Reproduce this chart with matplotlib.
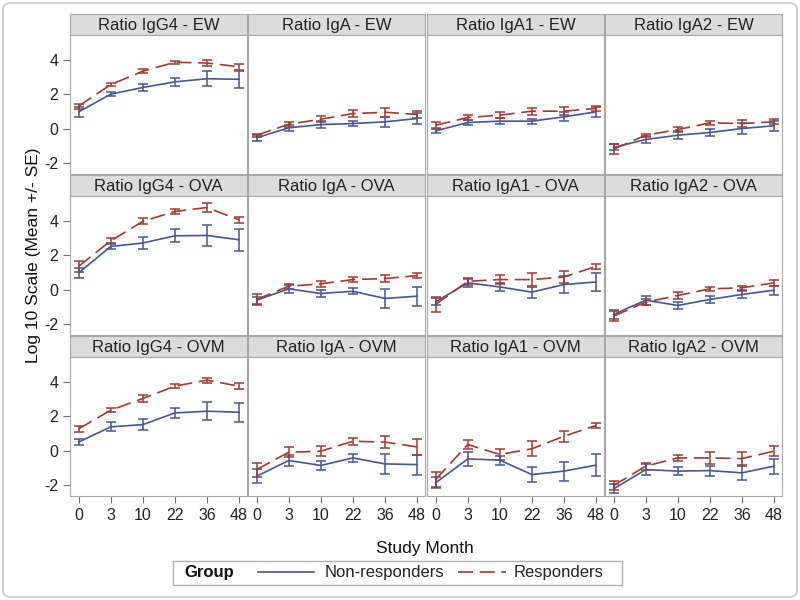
import matplotlib.pyplot as plt
from matplotlib.patches import FancyBboxPatch, Rectangle
from matplotlib.lines import Line2D
import numpy as np

plt.rcParams['font.family'] = ['Liberation Sans', 'DejaVu Sans']

months = ['0', '3', '10', '22', '36', '48']
antibodies = ['IgG4', 'IgA', 'IgA1', 'IgA2']
antigens = ['EW', 'OVA', 'OVM']

# Non-responders: mean and SE, rows = antigen, cols = antibody
nr_mean = [
    [[0.97, 2.0, 2.39, 2.72, 2.9, 2.87],
     [-0.54, 0.04, 0.23, 0.29, 0.39, 0.58],
     [-0.14, 0.35, 0.43, 0.43, 0.68, 0.97],
     [-1.1, -0.64, -0.39, -0.23, 0.0, 0.16]],
    [[0.97, 2.51, 2.71, 3.13, 3.15, 2.9],
     [-0.62, 0.04, -0.23, -0.1, -0.52, -0.39],
     [-0.72, 0.39, 0.15, -0.15, 0.29, 0.44],
     [-1.45, -0.62, -0.93, -0.58, -0.29, -0.04]],
    [[0.49, 1.38, 1.51, 2.19, 2.29, 2.23],
     [-1.5, -0.58, -0.87, -0.43, -0.78, -0.82],
     [-1.88, -0.49, -0.56, -1.4, -1.2, -0.85],
     [-2.23, -1.11, -1.2, -1.17, -1.3, -0.91]],
]
nr_se = [
    [[0.27, 0.1, 0.23, 0.25, 0.43, 0.5],
     [0.19, 0.16, 0.19, 0.16, 0.3, 0.3],
     [0.13, 0.15, 0.17, 0.15, 0.26, 0.27],
     [0.18, 0.18, 0.23, 0.2, 0.3, 0.28]],
    [[0.28, 0.17, 0.33, 0.37, 0.6, 0.63],
     [0.2, 0.24, 0.2, 0.16, 0.56, 0.56],
     [0.2, 0.24, 0.21, 0.32, 0.48, 0.53],
     [0.25, 0.26, 0.22, 0.19, 0.21, 0.26]],
    [[0.19, 0.26, 0.31, 0.29, 0.53, 0.56],
     [0.4, 0.34, 0.26, 0.25, 0.58, 0.58],
     [0.32, 0.39, 0.26, 0.44, 0.55, 0.66],
     [0.26, 0.31, 0.23, 0.29, 0.39, 0.44]],
]
# Responders
r_mean = [
    [[1.3, 2.56, 3.34, 3.86, 3.82, 3.6],
     [-0.39, 0.25, 0.54, 0.87, 0.95, 0.82],
     [0.19, 0.64, 0.78, 1.01, 1.01, 1.17],
     [-1.2, -0.39, -0.06, 0.33, 0.29, 0.39]],
    [[1.35, 2.84, 3.97, 4.55, 4.78, 4.06],
     [-0.58, 0.19, 0.33, 0.58, 0.64, 0.81],
     [-0.87, 0.48, 0.58, 0.58, 0.73, 1.35],
     [-1.55, -0.73, -0.35, 0.04, 0.1, 0.39]],
    [[1.26, 2.35, 3.03, 3.75, 4.1, 3.75],
     [-1.11, -0.1, -0.04, 0.54, 0.49, 0.21],
     [-1.69, 0.35, -0.23, 0.1, 0.83, 1.46],
     [-2.04, -0.91, -0.43, -0.43, -0.47, -0.04]],
]
r_se = [
    [[0.15, 0.1, 0.12, 0.08, 0.17, 0.17],
     [0.1, 0.15, 0.17, 0.2, 0.25, 0.18],
     [0.17, 0.17, 0.17, 0.2, 0.24, 0.15],
     [0.27, 0.1, 0.17, 0.12, 0.2, 0.15]],
    [[0.3, 0.14, 0.17, 0.13, 0.24, 0.16],
     [0.34, 0.15, 0.17, 0.15, 0.21, 0.15],
     [0.42, 0.19, 0.28, 0.38, 0.34, 0.15],
     [0.29, 0.19, 0.22, 0.1, 0.12, 0.17]],
    [[0.19, 0.13, 0.19, 0.13, 0.15, 0.17],
     [0.41, 0.29, 0.29, 0.19, 0.35, 0.47],
     [0.43, 0.25, 0.34, 0.43, 0.31, 0.12],
     [0.27, 0.21, 0.19, 0.33, 0.36, 0.29]],
]

blue = '#445694'
red = '#A23A2E'
frame = '#A8A8A8'

W, H = 800, 600
fig = plt.figure(figsize=(8, 6), dpi=100)

# outer rounded border
fig.add_artist(FancyBboxPatch((3 / W, 3 / H), 794 / W, 594 / H,
                              boxstyle='round,pad=0,rounding_size=0.01',
                              transform=fig.transFigure, fill=False,
                              edgecolor='#C8C8C8', linewidth=1.2))

x = np.arange(len(months))
col_left = [70, 248, 427, 605]
col_w = 177
row_top = [14, 175, 336]
head_h = 21
plot_h = 139

for i, ag in enumerate(antigens):
    for j, ab in enumerate(antibodies):
        left = col_left[j]
        top = row_top[i]
        # header strip
        hax = fig.add_axes([left / W, 1 - (top + head_h) / H, col_w / W, head_h / H])
        hax.set_facecolor('#DCDCDC')
        hax.set_xticks([])
        hax.set_yticks([])
        for s in hax.spines.values():
            s.set_color(frame)
        hax.text(0.5, 0.45, 'Ratio %s - %s' % (ab, ag), ha='center', va='center',
                 fontsize=12, color='#222222', transform=hax.transAxes)
        # plot area
        ax = fig.add_axes([left / W, 1 - (top + head_h + plot_h) / H, col_w / W, plot_h / H])
        ax.errorbar(x, nr_mean[i][j], yerr=nr_se[i][j], color=blue, lw=1.2,
                    capsize=3.6, elinewidth=1.1, capthick=1.1)
        line = ax.errorbar(x, r_mean[i][j], yerr=r_se[i][j], color=red, lw=1.2,
                           capsize=3.6, elinewidth=1.1, capthick=1.1)
        line[0].set_dashes([9, 4])
        ax.set_xlim(-0.27, 5.25)
        ax.set_ylim(-2.65, 5.45)
        for s in ax.spines.values():
            s.set_color(frame)
        ax.set_yticks([-2, 0, 2, 4])
        ax.set_xticks(x)
        ax.tick_params(colors='#707070', labelcolor='#222222', labelsize=11.5,
                       length=5, width=0.8)
        if j == 0:
            ax.set_yticklabels(['-2', '0', '2', '4'])
        else:
            ax.tick_params(axis='y', length=0, labelleft=False)
        if i == 2:
            ax.set_xticklabels(months)
        else:
            ax.tick_params(axis='x', length=0, labelbottom=False)

fig.text(34 / W, 1 - 255 / H, 'Log 10 Scale (Mean +/- SE)', rotation=90,
         ha='center', va='center', fontsize=12.5, color='#111111')
fig.text(425 / W, 1 - 549 / H, 'Study Month', ha='center', va='center',
         fontsize=12.5, color='#111111')

# legend
fig.add_artist(Rectangle((173 / W, 1 - 585 / H), 449 / W, 24 / H,
                         transform=fig.transFigure, fill=False,
                         edgecolor='#B0B0B0', linewidth=1))
fig.text(184 / W, 1 - 573 / H, 'Group', ha='left', va='center',
         fontsize=12, fontweight='bold', color='#111111')
fig.add_artist(Line2D([258 / W, 314 / W], [1 - 572 / H, 1 - 572 / H],
                      transform=fig.transFigure, color=blue, lw=1.2))
fig.text(325 / W, 1 - 573 / H, 'Non-responders', ha='left', va='center',
         fontsize=12, color='#222222')
fig.add_artist(Line2D([458 / W, 506 / W], [1 - 572 / H, 1 - 572 / H],
                      transform=fig.transFigure, color=red, lw=1.2,
                      dashes=[9, 4]))
fig.text(514 / W, 1 - 573 / H, 'Responders', ha='left', va='center',
         fontsize=12, color='#222222')

fig.savefig('out.png', dpi=100)
